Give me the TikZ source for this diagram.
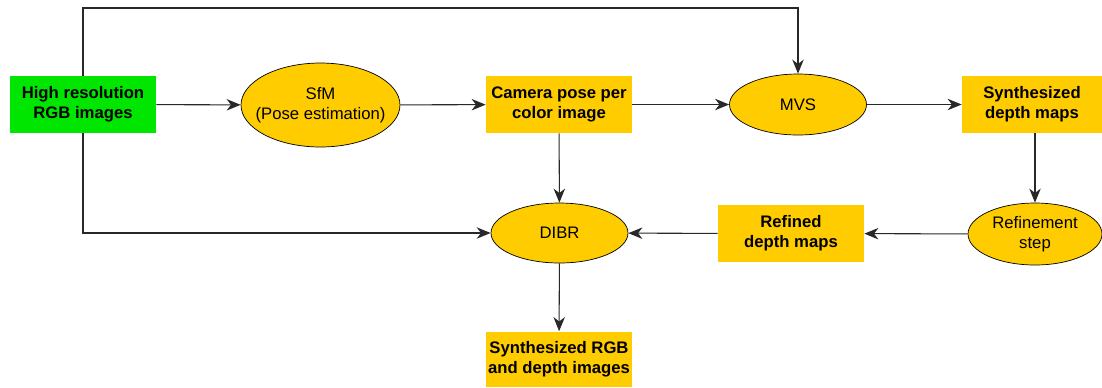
\documentclass[tikz,border=0pt]{standalone}
\usepackage{fontspec}
\setmainfont{Liberation Sans}
\usetikzlibrary{shapes.geometric,arrows.meta}
\definecolor{boxyellow}{RGB}{255,204,0}
\definecolor{boxgreen}{RGB}{0,230,0}
\definecolor{linegray}{RGB}{40,40,40}

\begin{document}
\begin{tikzpicture}[x=0.02cm,y=-0.02cm,
    box/.style={fill=boxyellow,minimum width=2.92cm,minimum height=1.14cm,
      inner sep=0pt,align=center,font=\fontsize{9.5}{11.5}\selectfont\bfseries},
    oval/.style={ellipse,draw=black,fill=boxyellow,inner sep=0pt,align=center,
      font=\fontsize{9.5}{11.5}\selectfont},
    flow/.style={-{Stealth[length=8pt,width=6.5pt,inset=2.5pt]},draw=linegray,line width=0.6pt}]
  \useasboundingbox (0,0) rectangle (1102,387);
  % upper row
  \node[box,fill=boxgreen] (hires) at (83,104.5) {High resolution\\RGB images};
  \node[oval,inner xsep=-5pt,minimum width=3.18cm,minimum height=1.68cm] (sfm) at (320.5,105) {SfM\\(Pose estimation)};
  \node[box] (campose) at (559,104.5) {Camera pose per\\color image};
  \node[oval,minimum width=2.74cm,minimum height=1.22cm] (mvs) at (798,104.5) {MVS};
  \node[box,minimum width=2.8cm] (synthdepth) at (1032,104.5) {Synthesized\\depth maps};
  % lower rows
  \node[oval,minimum width=2.74cm,minimum height=1.2cm] (dibr) at (559.5,233) {DIBR};
  \node[box] (refined) at (791,233.5) {Refined\\depth maps};
  \node[oval,minimum width=2.68cm,minimum height=1.24cm] (refine) at (1035,234) {Refinement\\step};
  \node[box,minimum height=1.1cm] (synthrgb) at (559,359) {Synthesized RGB\\and depth images};
  \coordinate (topline) at (0,8);
  \begin{scope}[flow]
    \draw (hires) -- (sfm);
    \draw (sfm) -- (campose);
    \draw (campose) -- (mvs);
    \draw (mvs) -- (synthdepth);
    \draw (refine |- synthdepth.south) -- (refine.north);
    \draw (refine) -- (refined);
    \draw (refined) -- (dibr);
    \draw (campose) -- (dibr);
    \draw (dibr) -- (synthrgb);
    \draw (hires.north) |- (mvs.north |- topline) -- (mvs.north);
    \draw (hires.south) |- (dibr.west);
  \end{scope}
\end{tikzpicture}
\end{document}
